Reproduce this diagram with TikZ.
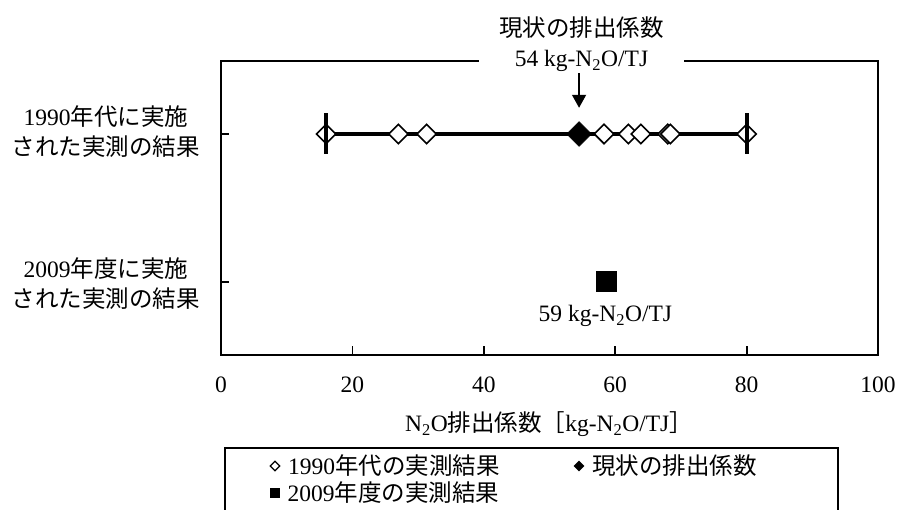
\documentclass[tikz,border=0pt]{standalone}
\usepackage{fontspec}
\setmainfont{Liberation Serif}
\newfontfamily\jp{Noto Sans CJK JP}
\usetikzlibrary{arrows.meta,shapes.geometric,positioning}

\newcommand{\ntwoo}{N\textsubscript{2}O}

\begin{document}
\begin{tikzpicture}[x=1pt,y=-1pt,
    every node/.style={font=\fontsize{23.5}{30}\selectfont},
    frame/.style={line width=1.8pt},
    opendia/.style={diamond,draw,fill=white,line width=1.6pt,minimum size=20pt,inner sep=0pt},
    fulldia/.style={diamond,draw,fill=black,minimum size=25pt,inner sep=0pt},
    fullsq/.style={rectangle,fill=black,minimum size=21pt,inner sep=0pt},
    whisker/.style={line width=4pt}]
\useasboundingbox (0,0) rectangle (898,510);

% plot frame and left ticks
\draw[frame] (221,61) rectangle (878,355);
\draw[frame] (221,134) -- ++(8,0);
\draw[frame] (221,282) -- ++(8,0);

% row labels
\node[align=center] (row1990) at (106,132) {1990{\jp 年代に実施}\\{\jp された実測の結果}};
\node[align=center] (row2009) at (106,284) {2009{\jp 年度に実施}\\{\jp された実測の結果}};

\begin{scope}[shift={(221,0)},x=6.57pt]
  % x axis
  \foreach \v in {20,40,60,80}
    \draw[frame] (\v,355) -- (\v,346);
  \foreach \v in {0,20,...,100}
    \node (xl\v) at (\v,385) {\v};

  % 1990s measurements
  \coordinate (lo) at (16,134);
  \coordinate (hi) at (80,134);
  \draw[line width=3.5pt] (lo) -- (hi);
  \foreach \v [count=\i] in {16,27,31.3,58.3,62,63.9,68,68.4,80}
    \node[opendia] (d\i) at (\v,134) {};
  \node[fulldia] (now) at (54.5,134) {};
  \draw[whisker] (lo) ++(0,-20.5) -- ++(0,41);
  \draw[whisker] (hi) ++(0,-20.5) -- ++(0,41);

  % 2009 measurement
  \node[fullsq] (m2009) at (58.7,282) {};
  \node (m2009lab) at (58.5,316) {59 kg-\ntwoo/TJ};
\end{scope}

% current factor label over the frame
\node[fill=white,inner xsep=20pt,inner ysep=1pt,align=center] (nowlab) at (581.5,44.5)
  {{\jp 現状の排出係数}\\54 kg-\ntwoo/TJ};
\draw[-{Triangle[width=14pt,length=13pt]},line width=1.5pt,shorten >=13.5pt]
  (nowlab.south -| now) -- (now.north);

\node (xtitle) at (549,424) {\ntwoo{\jp 排出係数［}kg-\ntwoo/TJ{\jp ］}};

% legend
\draw[line width=1.5pt] (225,511) -- (225,448) -- (838,448) -- (838,511);
\node[diamond,draw,fill=white,line width=1.2pt,minimum size=10pt,inner sep=0pt] (key1990) at (275,466) {};
\node[right=4pt of key1990] (key1990lab) {1990{\jp 年代の実測結果}};
\node[diamond,fill=black,minimum size=11pt,inner sep=0pt] (keynow) at (579,466) {};
\node[right=4pt of keynow] (keynowlab) {{\jp 現状の排出係数}};
\node[fill=black,minimum size=10pt,inner sep=0pt] (key2009) at (275,493) {};
\node[right=4pt of key2009] (key2009lab) {2009{\jp 年度の実測結果}};
\end{tikzpicture}
\end{document}
